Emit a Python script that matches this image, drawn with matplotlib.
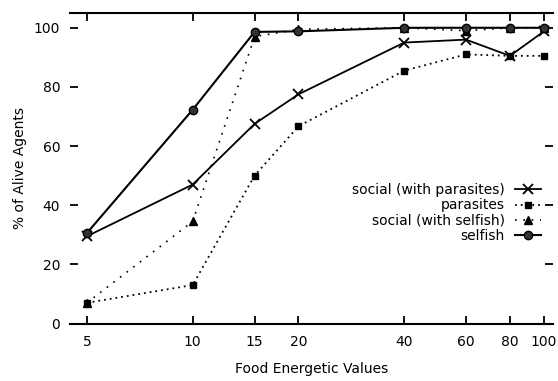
import matplotlib
matplotlib.use("Agg")
import matplotlib.pyplot as plt
from matplotlib.ticker import FixedLocator, FixedFormatter, NullLocator

plt.rcParams['font.family'] = ['DejaVu Sans']

food_values = [5, 10, 15, 20, 40, 60, 80, 100]
tick_labels = ["5", "10", "15", "20", "40", "60", "80", "100"]
social_with_parasites = [29.5, 47, 67.5, 77.5, 95, 96, 90.5, 98.8]
parasites = [7, 13, 50, 66.7, 85.5, 91, 90.5, 90.5]
social_with_selfish = [7, 34.5, 97, 99.5, 100, 99, 100, 100]
selfish = [30.6, 72.3, 98.6, 98.8, 100, 100, 100, 100]
y_ticks = [0, 20, 40, 60, 80, 100]

W, H = 558, 381
fig = plt.figure(figsize=(W / 100, H / 100), dpi=100)
ax = fig.add_axes([70 / W, 1 - 323.5 / H, 483 / W, 310.5 / H])

ax.plot(food_values, social_with_parasites, color='black', lw=1.3, marker='x',
        ms=7, mew=1.3, label='social (with parasites)')
ax.plot(food_values, parasites, color='black', lw=1.3, ls=(0, (1, 2.2)), marker='s',
        ms=5, label='parasites')
ax.plot(food_values, social_with_selfish, color='black', lw=1.2, ls=(0, (1, 4)), marker='^',
        ms=6, label='social (with selfish)')
ax.plot(food_values, selfish, color='black', lw=1.5, marker='o', ms=6,
        mfc='#333333', label='selfish')

ax.set_xscale('log')
ax.set_xlim(4.474, 106.1)
ax.set_ylim(0, 105)
ax.xaxis.set_major_locator(FixedLocator(food_values))
ax.xaxis.set_major_formatter(FixedFormatter(tick_labels))
ax.xaxis.set_minor_locator(NullLocator())
ax.set_yticks(y_ticks)

ax.spines['left'].set_visible(False)
ax.spines['right'].set_visible(False)
ax.spines['top'].set_linewidth(1.5)
ax.spines['bottom'].set_linewidth(1.5)
ax.tick_params(axis='both', direction='in', length=5.5, width=1.3, labelsize=10,
               top=True, right=True)
ax.tick_params(axis='x', pad=8)
ax.tick_params(axis='y', pad=7)

ax.set_xlabel('Food Energetic Values', fontsize=10, labelpad=10)
ax.set_ylabel('% of Alive Agents', fontsize=10, labelpad=5)

leg = ax.legend(loc='upper right', bbox_to_anchor=(541 / W, 1 - 183 / H),
                bbox_transform=fig.transFigure, frameon=False, markerfirst=False,
                fontsize=10, handlelength=1.9, handletextpad=0.7, labelspacing=0.1,
                borderaxespad=0, borderpad=0)

fig.savefig('out.png', dpi=100, facecolor='white')
